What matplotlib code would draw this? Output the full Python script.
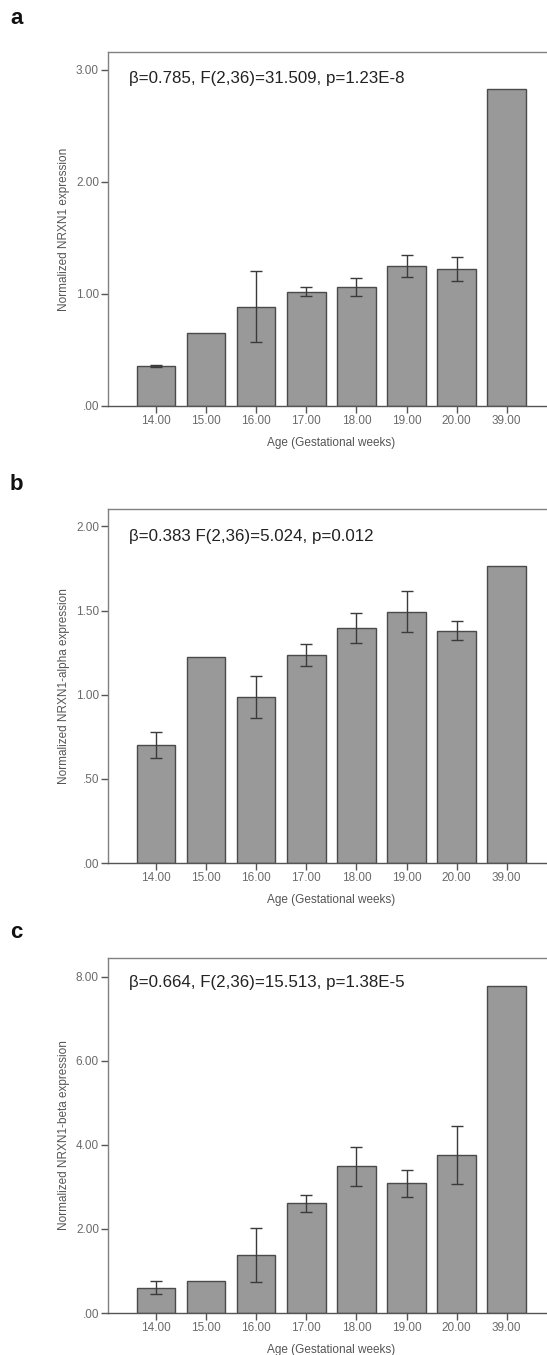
import matplotlib
matplotlib.use("Agg")
import matplotlib.pyplot as plt
import numpy as np

plt.rcParams['font.family'] = ['Liberation Sans', 'DejaVu Sans']

categories = ["14.00", "15.00", "16.00", "17.00", "18.00", "19.00", "20.00", "39.00"]

nrxn1_mean = [0.354, 0.649, 0.887, 1.022, 1.065, 1.250, 1.223, 2.830]
nrxn1_err = [0.010, np.nan, 0.318, 0.037, 0.080, 0.098, 0.110, np.nan]

alpha_mean = [0.700, 1.226, 0.986, 1.236, 1.395, 1.494, 1.381, 1.766]
alpha_err = [0.078, np.nan, 0.123, 0.068, 0.090, 0.122, 0.058, np.nan]

beta_mean = [0.605, 0.762, 1.373, 2.611, 3.484, 3.080, 3.746, 7.778]
beta_err = [0.147, np.nan, 0.643, 0.200, 0.453, 0.320, 0.690, np.nan]

panels = [
    dict(label="a", mean=nrxn1_mean, err=nrxn1_err,
         ylabel="Normalized NRXN1 expression",
         ticks=[0, 1, 2, 3], ticklabels=[".00", "1.00", "2.00", "3.00"],
         ytop=3.16, text="\u03b2=0.785, F(2,36)=31.509, p=1.23E-8",
         top=52, bottom=406, lab_y=19, txt_y=79),
    dict(label="b", mean=alpha_mean, err=alpha_err,
         ylabel="Normalized NRXN1-alpha expression",
         ticks=[0, 0.5, 1.0, 1.5, 2.0], ticklabels=[".00", ".50", "1.00", "1.50", "2.00"],
         ytop=2.104, text="\u03b2=0.383 F(2,36)=5.024, p=0.012",
         top=509, bottom=863, lab_y=485, txt_y=537),
    dict(label="c", mean=beta_mean, err=beta_err,
         ylabel="Normalized NRXN1-beta expression",
         ticks=[0, 2, 4, 6, 8], ticklabels=[".00", "2.00", "4.00", "6.00", "8.00"],
         ytop=8.44, text="\u03b2=0.664, F(2,36)=15.513, p=1.38E-5",
         top=958, bottom=1313, lab_y=933, txt_y=983),
]

W, H = 547, 1355
fig = plt.figure(figsize=(W / 100, H / 100), dpi=100)
fig.patch.set_facecolor("white")

ax_left = 108
ax_right = 555
x = np.arange(len(categories))
spacing = 50.1
c0 = 156.0

for p in panels:
    ax = fig.add_axes([ax_left / W, 1 - p["bottom"] / H,
                       (ax_right - ax_left) / W, (p["bottom"] - p["top"]) / H])
    ax.bar(x, p["mean"], width=0.77, color="#999999", edgecolor="#4a4a4a",
           linewidth=1.0, zorder=2)
    ax.errorbar(x, p["mean"], yerr=p["err"], fmt="none", ecolor="#3a3a3a",
                elinewidth=1.0, capsize=4.5, capthick=1.0, zorder=3)
    ax.set_xlim(-(c0 - ax_left) / spacing, (ax_right - c0) / spacing)
    ax.set_ylim(0, p["ytop"])
    ax.set_xticks(x)
    ax.set_xticklabels(categories)
    ax.set_yticks(p["ticks"])
    ax.set_yticklabels(p["ticklabels"])
    for s in ax.spines.values():
        s.set_color("#808080")
        s.set_linewidth(1.0)
    ax.spines["bottom"].set_color("#555555")
    ax.tick_params(axis="both", direction="out", length=5, width=1,
                   color="#555555", labelcolor="#6a6a6a", labelsize=8.5, pad=1.5)
    ax.set_xlabel("Age (Gestational weeks)", fontsize=8.5, color="#555555", labelpad=7)
    ax.set_ylabel(p["ylabel"], fontsize=8.5, color="#555555", labelpad=4)
    fig.text(10 / W, 1 - p["lab_y"] / H, p["label"], fontsize=16, fontweight="bold",
             ha="left", va="center", color="#111111")
    fig.text(129 / W, 1 - p["txt_y"] / H, p["text"], fontsize=12.2, ha="left",
             va="center", color="#222222")

fig.savefig("out.png", dpi=100, facecolor="white")
